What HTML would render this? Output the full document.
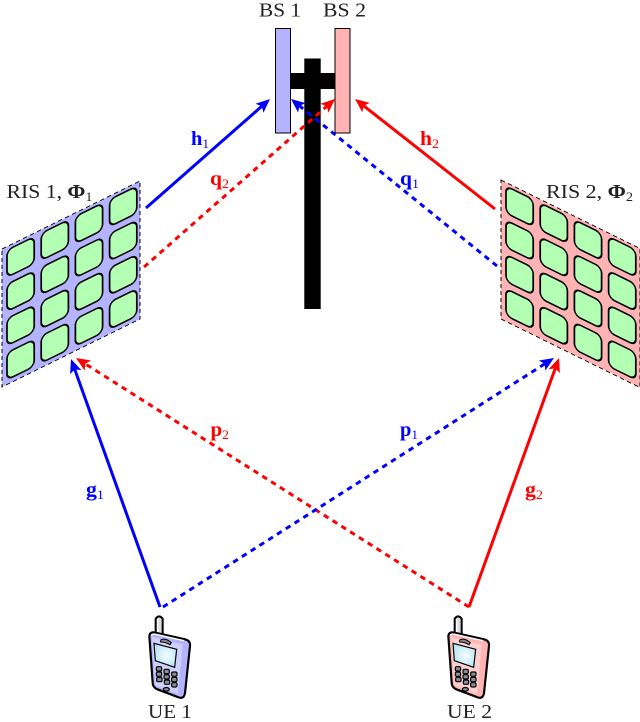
<!DOCTYPE html>
<html>
<head>
<meta charset="utf-8">
<style>
html,body{margin:0;padding:0;background:#fff;}
svg{display:block;}
text{font-family:"Liberation Serif",serif;}
</style>
</head>
<body>
<svg width="640" height="722" viewBox="0 0 640 722" xmlns="http://www.w3.org/2000/svg">
<defs>
<marker id="ab" markerUnits="userSpaceOnUse" viewBox="-10 -8 20 16" markerWidth="20" markerHeight="16" refX="0" refY="0" orient="auto"><path d="M8,0 L-6,-6 L-3,0 L-6,6z" fill="#00f"/></marker>
<marker id="ar" markerUnits="userSpaceOnUse" viewBox="-10 -8 20 16" markerWidth="20" markerHeight="16" refX="0" refY="0" orient="auto"><path d="M8,0 L-6,-6 L-3,0 L-6,6z" fill="#f00"/></marker>
<radialGradient id="scr" cx="55%" cy="50%" r="60%"><stop offset="0" stop-color="#f4fdff"/><stop offset="1" stop-color="#b4e4f4"/></radialGradient>
<g id="tiles" fill="#b3ffb3" stroke="#000" stroke-width="1.7">
<rect x="5" y="3.6" width="27.2" height="27" rx="6"/><rect x="39.2" y="3.6" width="27.2" height="27" rx="6"/><rect x="73.4" y="3.6" width="27.2" height="27" rx="6"/><rect x="107.6" y="3.6" width="27.2" height="27" rx="6"/>
<rect x="5" y="37.8" width="27.2" height="27" rx="6"/><rect x="39.2" y="37.8" width="27.2" height="27" rx="6"/><rect x="73.4" y="37.8" width="27.2" height="27" rx="6"/><rect x="107.6" y="37.8" width="27.2" height="27" rx="6"/>
<rect x="5" y="72" width="27.2" height="27" rx="6"/><rect x="39.2" y="72" width="27.2" height="27" rx="6"/><rect x="73.4" y="72" width="27.2" height="27" rx="6"/><rect x="107.6" y="72" width="27.2" height="27" rx="6"/>
<rect x="5" y="106.2" width="27.2" height="27" rx="6"/><rect x="39.2" y="106.2" width="27.2" height="27" rx="6"/><rect x="73.4" y="106.2" width="27.2" height="27" rx="6"/><rect x="107.6" y="106.2" width="27.2" height="27" rx="6"/>
</g>
<g id="keys" fill="#8c8c98" stroke="#000" stroke-width="3.5">
<rect x="49" y="170" width="16" height="13" rx="4"/><rect x="72" y="178" width="16" height="13" rx="4"/><rect x="95" y="186" width="16" height="13" rx="4"/>
<rect x="49" y="186" width="16" height="13" rx="4"/><rect x="72" y="194" width="16" height="13" rx="4"/><rect x="95" y="202" width="16" height="13" rx="4"/>
<rect x="50" y="202" width="16" height="13" rx="4"/><rect x="73" y="210" width="16" height="13" rx="4"/><rect x="95" y="218" width="16" height="13" rx="4"/>
</g>
<g id="phoneTop">
<path d="M47,72 L47,26 Q57,12 68,26 L68,76z" fill="#ddd" stroke="#000" stroke-width="6"/>
<path d="M53,70 L53,28" stroke="#fff" stroke-width="4"/>
</g>
<g id="phoneFront">
<path d="M62,90 Q76,82 94,98 L90,104 Q76,96 62,96z" fill="#888" stroke="#000" stroke-width="3"/>
<path d="M42,100 L110,118 L104,172 L46,152z" fill="url(#scr)" stroke="#000" stroke-width="3.5"/>
<use href="#keys"/>
<ellipse cx="79" cy="238" rx="9" ry="5.5" fill="#8c8c98" stroke="#000" stroke-width="3.5"/>
</g>
</defs>

<!-- RIS 1 -->
<g transform="matrix(1,-0.4928,0,1,2,249)">
<rect x="0" y="0" width="138" height="138" fill="#b3b3ff" stroke="#000" stroke-width="1" stroke-dasharray="4 3"/>
<use href="#tiles"/>
</g>
<!-- RIS 2 -->
<g transform="matrix(1,0.4928,0,1,501,180)">
<rect x="0" y="0" width="139" height="139" fill="#ffb3b3" stroke="#000" stroke-width="1" stroke-dasharray="4 3"/>
<use href="#tiles"/>
</g>

<!-- Tower -->
<rect x="304.3" y="58.5" width="16.4" height="250.5" fill="#000"/>
<rect x="290" y="73" width="45" height="16" fill="#000"/>
<rect x="275.5" y="28.5" width="15" height="104.5" fill="#b3b3ff" stroke="#000" stroke-width="1"/>
<rect x="335" y="28.5" width="15" height="104.5" fill="#ffb3b3" stroke="#000" stroke-width="1"/>

<!-- Arrows -->
<g fill="none" stroke-width="3">
<line x1="146" y1="208" x2="264" y2="104.3" stroke="#00f" marker-end="url(#ab)"/>
<line x1="495" y1="209" x2="361.3" y2="103.9" stroke="#f00" marker-end="url(#ar)"/>
<line x1="144" y1="267" x2="329" y2="104.3" stroke="#f00" stroke-dasharray="5.5 4.9" marker-end="url(#ar)"/>
<line x1="497" y1="266" x2="297.2" y2="104" stroke="#00f" stroke-dasharray="5.5 4.9" marker-end="url(#ab)"/>
<line x1="160" y1="607" x2="73.7" y2="366.5" stroke="#00f" marker-end="url(#ab)"/>
<line x1="469" y1="607" x2="82.8" y2="362.3" stroke="#f00" stroke-dasharray="5.5 4.9" marker-end="url(#ar)"/>
<line x1="163" y1="607" x2="547.2" y2="362.3" stroke="#00f" stroke-dasharray="5.5 4.9" marker-end="url(#ab)"/>
<line x1="469" y1="607" x2="556.3" y2="365.5" stroke="#f00" marker-end="url(#ar)"/>
</g>

<!-- Phone 1 -->
<g transform="translate(140,610) scale(0.3333)">
<use href="#phoneTop"/>
<path d="M28,78 Q30,64 46,68 L135,88 Q152,92 150,108 L135,250 Q131,268 116,262 L52,238 Q38,232 38,218z" fill="#b3b3ff" stroke="#000" stroke-width="6.5"/>
<path d="M35,80 L128,104 L114,252 L46,226z" fill="#d0d0ff"/>
<path d="M34,76 Q38,70 48,73 L132,92" fill="none" stroke="#fff" stroke-width="4"/>
<use href="#phoneFront"/>
</g>
<!-- Phone 2 -->
<g transform="translate(439,610) scale(0.3333)">
<use href="#phoneTop"/>
<path d="M28,78 Q30,64 46,68 L135,88 Q152,92 150,108 L135,250 Q131,268 116,262 L52,238 Q38,232 38,218z" fill="#ffb3b3" stroke="#000" stroke-width="6.5"/>
<path d="M35,80 L128,104 L114,252 L46,226z" fill="#ffd0d0"/>
<path d="M34,76 Q38,70 48,73 L132,92" fill="none" stroke="#fff" stroke-width="4"/>
<use href="#phoneFront"/>
</g>

<!-- Labels -->
<g font-size="20" fill="#222">
<text x="259" y="16.5" textLength="42" lengthAdjust="spacingAndGlyphs">BS 1</text>
<text x="323" y="16.5" textLength="43" lengthAdjust="spacingAndGlyphs">BS 2</text>
<text x="148" y="718" textLength="44" lengthAdjust="spacingAndGlyphs">UE 1</text>
<text x="447" y="718" textLength="45" lengthAdjust="spacingAndGlyphs">UE 2</text>
<text x="6.5" y="198" textLength="86" lengthAdjust="spacingAndGlyphs">RIS 1, <tspan font-weight="bold">Φ</tspan><tspan font-size="13" dy="3">1</tspan></text>
<text x="546" y="198" textLength="87" lengthAdjust="spacingAndGlyphs">RIS 2, <tspan font-weight="bold">Φ</tspan><tspan font-size="13" dy="3">2</tspan></text>
</g>
<g font-size="20" font-weight="bold" fill="#00f">
<text x="191" y="145" textLength="18" lengthAdjust="spacingAndGlyphs">h<tspan font-size="13" font-weight="normal" dy="3">1</tspan></text>
<text x="400" y="185" textLength="19" lengthAdjust="spacingAndGlyphs">q<tspan font-size="13" font-weight="normal" dy="3">1</tspan></text>
<text x="86" y="496" textLength="18" lengthAdjust="spacingAndGlyphs">g<tspan font-size="13" font-weight="normal" dy="3">1</tspan></text>
<text x="400" y="436" textLength="18" lengthAdjust="spacingAndGlyphs">p<tspan font-size="13" font-weight="normal" dy="3">1</tspan></text>
</g>
<g font-size="20" font-weight="bold" fill="#f00">
<text x="420" y="145" textLength="19" lengthAdjust="spacingAndGlyphs">h<tspan font-size="13" font-weight="normal" dy="3">2</tspan></text>
<text x="210" y="185" textLength="19" lengthAdjust="spacingAndGlyphs">q<tspan font-size="13" font-weight="normal" dy="3">2</tspan></text>
<text x="525" y="496" textLength="18" lengthAdjust="spacingAndGlyphs">g<tspan font-size="13" font-weight="normal" dy="3">2</tspan></text>
<text x="210.5" y="436" textLength="18.5" lengthAdjust="spacingAndGlyphs">p<tspan font-size="13" font-weight="normal" dy="3">2</tspan></text>
</g>
</svg>
</body>
</html>
